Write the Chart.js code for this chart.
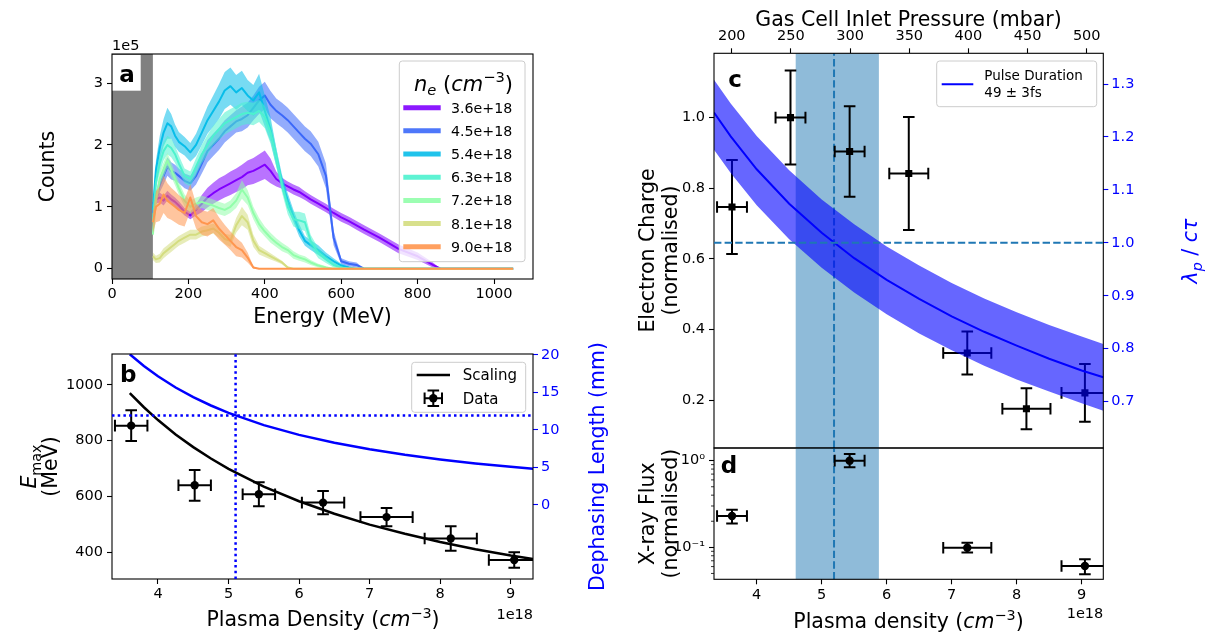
<!DOCTYPE html>
<html>
<head>
<meta charset="utf-8">
<title>Density scan</title>
<script src="https://cdn.jsdelivr.net/npm/chart.js@4.4.1/dist/chart.umd.min.js"></script>
<style>
  body { margin: 0; background: #fff; }
  #fig { position: relative; width: 1206px; height: 633px; overflow: hidden; }
  #fig canvas { position: absolute; left: 0; top: 0; }
</style>
</head>
<body>
<div id="fig">
  <canvas id="spectra" width="1206" height="633"></canvas>
  <canvas id="energy" width="1206" height="633"></canvas>
  <canvas id="charge" width="1206" height="633"></canvas>
  <canvas id="xray" width="1206" height="633"></canvas>
</div>
<script>
// ---- spectra (a): counts in units of 1e5 on a shared energy grid (MeV) ----
const energy = [107, 115, 125, 135, 145, 155, 165, 175, 190, 205, 220, 235, 250, 265, 280, 295, 310, 325, 340, 355, 370, 385, 400, 415, 430, 445, 460, 475, 490, 505, 520, 540, 560, 580, 600, 620, 640, 660, 700, 750, 800, 840, 860, 1050];
const counts36 = [1.05, 1.12, 1.15, 1.10, 1.18, 1.12, 1.08, 1.02, 0.92, 0.86, 0.95, 1.05, 1.15, 1.22, 1.28, 1.33, 1.38, 1.43, 1.48, 1.55, 1.58, 1.63, 1.68, 1.58, 1.45, 1.38, 1.33, 1.28, 1.24, 1.18, 1.12, 1.05, 0.98, 0.90, 0.83, 0.77, 0.70, 0.63, 0.50, 0.32, 0.20, 0.06, 0, 0];
const spread36 = [0.06, 0.07, 0.08, 0.08, 0.08, 0.08, 0.07, 0.07, 0.06, 0.06, 0.09, 0.14, 0.16, 0.17, 0.18, 0.18, 0.19, 0.19, 0.20, 0.20, 0.21, 0.22, 0.23, 0.20, 0.12, 0.09, 0.08, 0.08, 0.08, 0.07, 0.07, 0.07, 0.07, 0.07, 0.07, 0.07, 0.07, 0.07, 0.07, 0.07, 0.06, 0.04, 0, 0];
const counts45 = [0.90, 1.15, 1.35, 1.50, 1.65, 1.58, 1.55, 1.50, 1.42, 1.38, 1.50, 1.70, 1.90, 2.00, 2.10, 2.22, 2.30, 2.38, 2.42, 2.48, 2.60, 2.72, 2.80, 2.65, 2.55, 2.48, 2.40, 2.30, 2.20, 2.10, 2.02, 1.85, 1.50, 0.50, 0.12, 0.08, 0.06, 0, 0, 0, 0, 0, 0, 0];
const spread45 = [0.06, 0.10, 0.12, 0.14, 0.15, 0.14, 0.13, 0.12, 0.12, 0.12, 0.14, 0.16, 0.18, 0.18, 0.18, 0.18, 0.18, 0.18, 0.20, 0.20, 0.20, 0.22, 0.22, 0.22, 0.20, 0.20, 0.20, 0.20, 0.20, 0.20, 0.20, 0.20, 0.20, 0.12, 0.05, 0.04, 0.04, 0, 0, 0, 0, 0, 0, 0];
const counts54 = [0.95, 1.60, 1.95, 2.20, 2.35, 2.30, 2.15, 2.05, 1.98, 1.88, 2.00, 2.20, 2.40, 2.55, 2.70, 2.88, 2.95, 2.85, 2.92, 2.80, 2.72, 2.85, 2.55, 2.25, 1.80, 1.40, 1.10, 0.85, 0.62, 0.45, 0.38, 0.30, 0.20, 0.12, 0.05, 0.02, 0, 0, 0, 0, 0, 0, 0, 0];
const spread54 = [0.08, 0.15, 0.20, 0.22, 0.25, 0.20, 0.18, 0.16, 0.15, 0.15, 0.18, 0.20, 0.22, 0.25, 0.28, 0.30, 0.30, 0.28, 0.28, 0.25, 0.25, 0.30, 0.25, 0.20, 0.15, 0.12, 0.12, 0.10, 0.10, 0.08, 0.08, 0.08, 0.06, 0.05, 0.03, 0.02, 0, 0, 0, 0, 0, 0, 0, 0];
const counts63 = [0.75, 1.40, 1.70, 1.90, 2.00, 1.95, 1.85, 1.70, 1.50, 1.45, 1.65, 1.85, 2.00, 2.15, 2.25, 2.35, 2.40, 2.45, 2.50, 2.52, 2.50, 2.55, 2.45, 2.20, 1.80, 1.35, 1.00, 0.80, 0.78, 0.75, 0.45, 0.25, 0.15, 0.06, 0.02, 0, 0, 0, 0, 0, 0, 0, 0, 0];
const spread63 = [0.06, 0.12, 0.15, 0.15, 0.15, 0.15, 0.14, 0.13, 0.12, 0.12, 0.14, 0.15, 0.16, 0.16, 0.17, 0.18, 0.18, 0.18, 0.18, 0.18, 0.18, 0.18, 0.18, 0.18, 0.15, 0.12, 0.12, 0.12, 0.14, 0.14, 0.10, 0.08, 0.06, 0.04, 0.02, 0, 0, 0, 0, 0, 0, 0, 0, 0];
const counts72 = [0.55, 1.10, 1.45, 1.60, 1.75, 1.60, 1.45, 1.30, 1.10, 1.00, 1.05, 1.08, 1.05, 1.02, 0.98, 0.95, 1.00, 1.10, 1.28, 1.15, 0.90, 0.72, 0.60, 0.50, 0.42, 0.35, 0.30, 0.22, 0.18, 0.15, 0.10, 0.05, 0.02, 0, 0, 0, 0, 0, 0, 0, 0, 0, 0, 0];
const spread72 = [0.05, 0.10, 0.12, 0.12, 0.12, 0.12, 0.10, 0.10, 0.10, 0.10, 0.10, 0.10, 0.10, 0.10, 0.10, 0.10, 0.10, 0.12, 0.15, 0.12, 0.10, 0.10, 0.08, 0.08, 0.07, 0.07, 0.06, 0.06, 0.05, 0.05, 0.04, 0.03, 0.02, 0, 0, 0, 0, 0, 0, 0, 0, 0, 0, 0];
const counts81 = [0.20, 0.15, 0.17, 0.25, 0.30, 0.35, 0.40, 0.45, 0.50, 0.55, 0.55, 0.60, 0.62, 0.65, 0.58, 0.48, 0.45, 0.70, 0.85, 0.75, 0.45, 0.30, 0.25, 0.20, 0.15, 0.10, 0.02, 0, 0, 0, 0, 0, 0, 0, 0, 0, 0, 0, 0, 0, 0, 0, 0, 0];
const spread81 = [0.06, 0.06, 0.07, 0.08, 0.08, 0.08, 0.08, 0.08, 0.08, 0.08, 0.08, 0.08, 0.08, 0.08, 0.08, 0.08, 0.10, 0.12, 0.15, 0.12, 0.10, 0.07, 0.06, 0.05, 0.04, 0.03, 0.02, 0, 0, 0, 0, 0, 0, 0, 0, 0, 0, 0, 0, 0, 0, 0, 0, 0];
const counts90 = [0.75, 1.00, 1.05, 1.20, 1.10, 1.05, 1.00, 0.95, 0.90, 1.15, 0.85, 0.75, 0.72, 0.78, 0.65, 0.55, 0.45, 0.35, 0.30, 0.18, 0.02, 0, 0, 0, 0, 0, 0, 0, 0, 0, 0, 0, 0, 0, 0, 0, 0, 0, 0, 0, 0, 0, 0, 0];
const spread90 = [0.18, 0.25, 0.28, 0.30, 0.28, 0.26, 0.25, 0.24, 0.22, 0.22, 0.20, 0.20, 0.20, 0.20, 0.18, 0.16, 0.15, 0.15, 0.12, 0.08, 0.02, 0, 0, 0, 0, 0, 0, 0, 0, 0, 0, 0, 0, 0, 0, 0, 0, 0, 0, 0, 0, 0, 0, 0];
const spectrumLabels = ['3.6e+18', '4.5e+18', '5.4e+18', '6.3e+18', '7.2e+18', '8.1e+18', '9.0e+18'];
const cutoffEnergy = 107;   // spectrometer acceptance edge, MeV

// ---- max energy (b) vs plasma density (1e18 cm^-3) ----
const density = [3.62, 4.52, 5.43, 6.34, 7.24, 8.15, 9.05];
const densityErr = [0.23, 0.23, 0.23, 0.30, 0.37, 0.37, 0.36];
const eMax = [854, 640, 608, 578, 526, 449, 372];
const eMaxErr = [55, 55, 43, 42, 33, 44, 28];
const curveDensity = [3.6, 3.8, 4.0, 4.25, 4.5, 4.75, 5.0, 5.5, 6.0, 6.5, 7.0, 7.5, 8.0, 8.5, 9.0, 9.4];
const scalingE = [971, 920, 874, 822, 777, 736, 699, 635, 583, 538, 499, 466, 437, 411, 388, 372];
const dephasingMm = [20.07, 18.5, 17.13, 15.64, 14.36, 13.24, 12.26, 10.63, 9.33, 8.27, 7.40, 6.67, 6.06, 5.53, 5.08, 4.76];
const matchDensity = 5.10;
const matchLength = 11.9;

// ---- charge (c) and x-ray flux (d) ----
const charge = [0.747, 1.0, 0.904, 0.842, 0.334, 0.176, 0.221];
const chargeErr = [0.133, 0.133, 0.128, 0.160, 0.061, 0.058, 0.082];
const ratioDensity = [3.343, 3.6, 4.0, 4.5, 5.0, 5.5, 6.0, 6.5, 7.0, 7.5, 8.0, 8.5, 9.0, 9.333];
const ratioMid = [1.246, 1.201, 1.139, 1.074, 1.019, 0.971, 0.930, 0.894, 0.861, 0.832, 0.806, 0.781, 0.759, 0.746];
const ratioHigh = [1.308, 1.263, 1.202, 1.137, 1.082, 1.035, 0.993, 0.957, 0.924, 0.895, 0.869, 0.845, 0.823, 0.809];
const ratioLow = [1.176, 1.132, 1.071, 1.007, 0.953, 0.906, 0.865, 0.829, 0.797, 0.768, 0.742, 0.719, 0.697, 0.683];
const resonantRatio = 1.0;
const optimumDensity = 5.19;
const optimumRange = [4.60, 5.88];
const xrayDensity = [3.62, 5.43, 7.24, 9.05];
const xrayDensityErr = [0.23, 0.23, 0.37, 0.36];
const xrayFlux = [0.230, 1.0, 0.099, 0.061];
const xrayLow = [0.188, 0.838, 0.087, 0.049];
const xrayHigh = [0.272, 1.19, 0.113, 0.073];

// ---- ticks ----
const energyTicks = [0, 200, 400, 600, 800, 1000];
const countTicks = [0, 1, 2, 3];
const densityTicks = [4, 5, 6, 7, 8, 9];
const eMaxTicks = [400, 600, 800, 1000];
const dephasingTicks = [0, 5, 10, 15, 20];
const pressureTicks = [200, 250, 300, 350, 400, 450, 500];
const chargeTicks = [0.2, 0.4, 0.6, 0.8, 1.0];
const ratioTicks = [0.7, 0.8, 0.9, 1.0, 1.1, 1.2, 1.3];
const fluxTicks = [0.1, 1];
const fluxMinorTicks = [0.05, 0.06, 0.07, 0.08, 0.09, 0.2, 0.3, 0.4, 0.5, 0.6, 0.7, 0.8, 0.9];

const spectrumColors = ['#8000ff', '#3b68f9', '#08bde9', '#4df2ce', '#91feaa', '#d4dd80', '#ff964f'];
const BLUE = '#0000ff';
const TAB = '#1f77b4';
const FONT = '"DejaVu Sans", sans-serif';
const W = 1206, H = 633;

Chart.defaults.font.family = FONT;
Chart.defaults.color = '#000';
Chart.defaults.animation = false;
Chart.defaults.responsive = false;
Chart.defaults.events = [];
Chart.defaults.plugins.legend.display = false;
Chart.defaults.plugins.tooltip.enabled = false;

function rgba(hex, a) {
  const n = parseInt(hex.slice(1), 16);
  return `rgba(${n >> 16},${(n >> 8) & 255},${n & 255},${a})`;
}
const pts = (xs, ys) => xs.map((x, i) => ({ x, y: ys[i] }));

// axis with fixed tick values and a fixed thickness so plot boxes line up
function axis(o) {
  return {
    type: o.type || 'linear',
    position: o.position,
    display: o.display !== false,
    bounds: 'data',
    min: o.min, max: o.max,
    grid: { drawOnChartArea: false, drawTicks: true, tickLength: 5, tickWidth: 1.1,
            tickColor: o.tickColor || o.color || '#000' },
    border: { display: false },
    ticks: { color: o.color || '#000', font: { size: 14.5 }, padding: o.pad == null ? 4 : o.pad,
             autoSkip: false, maxRotation: 0, minRotation: 0, callback: o.fmt || (v => String(v)) },
    afterBuildTicks: s => { s.ticks = (o.ticks || []).map(v => ({ value: v })); },
    afterFit: s => { if (s.isHorizontal()) s.height = o.size || 0; else s.width = o.size || 0; }
  };
}
function padFor(box, l, r, t, b) {
  return { left: box.l - l, right: W - box.r - r, top: box.t - t, bottom: H - box.b - b };
}

// text with italic / sub / superscript runs, centred on (x, y)
function rich(c, parts, x, y, o = {}) {
  const size = o.size || 20.5;
  c.save();
  c.translate(x, y);
  if (o.rot) c.rotate(-Math.PI / 2);
  c.fillStyle = o.color || '#000';
  c.textBaseline = 'alphabetic';
  c.textAlign = 'left';
  const font = p => `${p.i ? 'italic ' : ''}${p.b ? 'bold ' : ''}${(p.sub || p.sup) ? size * 0.7 : size}px ${FONT}`;
  const widths = parts.map(p => { c.font = font(p); return c.measureText(p.t).width; });
  const total = widths.reduce((s, w) => s + w, 0);
  let cx = o.align === 'left' ? 0 : o.align === 'right' ? -total : -total / 2;
  parts.forEach((p, k) => {
    c.font = font(p);
    const dy = p.sub ? size * 0.22 : p.sup ? -size * 0.42 : 0;
    c.fillText(p.t, cx, size * 0.36 + dy);
    cx += widths[k];
  });
  c.restore();
}
const T = (t, f = {}) => Object.assign({ t }, f);

function panelLabel(c, ch, x, baseY, box) {
  c.save();
  if (box) { c.fillStyle = '#fff'; c.fillRect(box[0], box[1], box[2], box[3]); }
  c.fillStyle = '#000';
  c.font = `bold 23px ${FONT}`;
  c.textAlign = 'center';
  c.textBaseline = 'alphabetic';
  c.fillText(ch, x, baseY);
  c.restore();
}
function legendFrame(c, x, y, w, h) {
  c.save();
  c.beginPath();
  c.roundRect(x, y, w, h, 3);
  c.fillStyle = 'rgba(255,255,255,0.8)';
  c.fill();
  c.strokeStyle = '#cccccc';
  c.lineWidth = 1;
  c.stroke();
  c.restore();
}
function clipArea(chart, c) {
  const a = chart.chartArea;
  c.beginPath();
  c.rect(a.left, a.top, a.width, a.height);
  c.clip();
}
function errBar(c, x, y, x0, x1, y0, y1, cap) {
  c.beginPath();
  c.moveTo(x0, y); c.lineTo(x1, y);
  c.moveTo(x0, y - cap); c.lineTo(x0, y + cap);
  c.moveTo(x1, y - cap); c.lineTo(x1, y + cap);
  c.moveTo(x, y0); c.lineTo(x, y1);
  c.moveTo(x - cap, y0); c.lineTo(x + cap, y0);
  c.moveTo(x - cap, y1); c.lineTo(x + cap, y1);
  c.stroke();
}
function vLine(chart, c, scaleId, v, color, width, dash) {
  const a = chart.chartArea, x = chart.scales[scaleId].getPixelForValue(v);
  c.save(); clipArea(chart, c);
  c.strokeStyle = color; c.lineWidth = width; c.setLineDash(dash);
  c.beginPath(); c.moveTo(x, a.bottom); c.lineTo(x, a.top); c.stroke();
  c.restore();
}
function hLine(chart, c, scaleId, v, color, width, dash) {
  const a = chart.chartArea, y = chart.scales[scaleId].getPixelForValue(v);
  c.save(); clipArea(chart, c);
  c.strokeStyle = color; c.lineWidth = width; c.setLineDash(dash);
  c.beginPath(); c.moveTo(a.left, y); c.lineTo(a.right, y); c.stroke();
  c.restore();
}

// error bars for any dataset carrying errX / errY (or yLow / yHigh)
Chart.register({
  id: 'errorBars',
  beforeDatasetDraw(chart, args) {
    const ds = chart.data.datasets[args.index];
    if (!ds.errX) return;
    const xs = chart.scales[args.meta.xAxisID], ys = chart.scales[args.meta.yAxisID];
    const c = chart.ctx;
    c.save(); clipArea(chart, c);
    c.strokeStyle = '#000'; c.lineWidth = 2;
    ds.data.forEach((p, k) => {
      const lo = ds.yLow ? ds.yLow[k] : p.y - ds.errY[k];
      const hi = ds.yHigh ? ds.yHigh[k] : p.y + ds.errY[k];
      errBar(c, xs.getPixelForValue(p.x), ys.getPixelForValue(p.y),
        xs.getPixelForValue(p.x - ds.errX[k]), xs.getPixelForValue(p.x + ds.errX[k]),
        ys.getPixelForValue(lo), ys.getPixelForValue(hi), 5.8);
    });
    c.restore();
  }
});

// per-chart drawing: things under the data, then overlays and the axes frame
function decor(under, over) {
  return {
    id: 'decor',
    beforeDatasetsDraw(chart) { if (under) { const c = chart.ctx; c.save(); under(chart, c); c.restore(); } },
    afterDatasetsDraw(chart) {
      const c = chart.ctx, a = chart.chartArea;
      c.save();
      c.strokeStyle = '#000'; c.lineWidth = 1.1;
      c.strokeRect(a.left, a.top, a.width, a.height);
      c.restore();
      if (over) { c.save(); over(chart, c); c.restore(); }
    }
  };
}

// ================= (a) electron spectra =================
const spectra = [counts36, counts45, counts54, counts63, counts72, counts81, counts90];
const spreads = [spread36, spread45, spread54, spread63, spread72, spread81, spread90];
const specSets = [];
spectra.forEach((cnt, i) => {
  const col = spectrumColors[i], base = 1000 - i * 10;
  specSets.push({ data: pts(energy, cnt.map((v, k) => v + spreads[i][k])), fill: '+1',
    backgroundColor: rgba(col, 0.55), borderColor: 'transparent', borderWidth: 0, pointRadius: 0, order: base });
  specSets.push({ data: pts(energy, cnt.map((v, k) => v - spreads[i][k])), fill: false,
    borderColor: 'transparent', borderWidth: 0, pointRadius: 0, order: base - 1 });
  specSets.push({ data: pts(energy, cnt), fill: false, borderColor: col, borderWidth: 2,
    borderJoinStyle: 'round', pointRadius: 0, order: base - 2 });
});
const boxA = { l: 112, t: 54, r: 533, b: 279 };
new Chart(document.getElementById('spectra'), {
  type: 'line',
  data: { datasets: specSets },
  options: {
    layout: { padding: padFor(boxA, 60, 0, 0, 40) },
    scales: {
      x: axis({ position: 'bottom', min: 0, max: 1102, ticks: energyTicks, size: 40, pad: 2 }),
      y: axis({ position: 'left', min: -0.167, max: 3.47, ticks: countTicks, size: 60 })
    }
  },
  plugins: [decor(
    (chart, c) => {
      const x = chart.scales.x, a = chart.chartArea;
      const x0 = x.getPixelForValue(0), x1 = x.getPixelForValue(cutoffEnergy);
      c.fillStyle = '#808080';
      c.fillRect(x0, a.top, x1 - x0, a.height);
    },
    (chart, c) => {
      panelLabel(c, 'a', 127, 82, [112.7, 55, 28, 35.7]);
      legendFrame(c, 399.3, 61, 125.7, 200.7);
      rich(c, [T('n', { i: 1 }), T('e', { i: 1, sub: 1 }), T(' ('), T('cm', { i: 1 }), T('−3', { sup: 1 }), T(')')],
        463.5, 83, { size: 21 });
      spectrumLabels.forEach((lab, i) => {
        const y = 107.7 + i * 23.17;
        c.strokeStyle = rgba(spectrumColors[i], 0.9);
        c.lineWidth = 5;
        c.beginPath(); c.moveTo(403.3, y); c.lineTo(440.7, y); c.stroke();
        rich(c, [T(lab)], 451, y, { size: 14.2, align: 'left' });
      });
      rich(c, [T('Counts')], 46.5, 166.5, { rot: true });
      rich(c, [T('Energy (MeV)')], 322.5, 316);
      rich(c, [T('1e5')], 112, 45, { size: 14.5, align: 'left' });
    })]
});

// ================= (b) maximum energy and dephasing length =================
const boxB = { l: 112, t: 354, r: 533, b: 579 };
new Chart(document.getElementById('energy'), {
  type: 'line',
  data: {
    datasets: [
      { data: pts(curveDensity, scalingE), borderColor: '#000', borderWidth: 2.5, pointRadius: 0, order: 30 },
      { data: pts(density, eMax), showLine: false, pointRadius: 4.2, pointBackgroundColor: '#000',
        pointBorderColor: '#000', pointBorderWidth: 0, errX: densityErr, errY: eMaxErr, order: 20 },
      { data: pts(curveDensity, dephasingMm), yAxisID: 'y2', borderColor: BLUE, borderWidth: 2.5, pointRadius: 0, order: 10 }
    ]
  },
  options: {
    layout: { padding: padFor(boxB, 60, 40, 0, 40) },
    scales: {
      x: axis({ position: 'bottom', min: 3.348, max: 9.316, ticks: densityTicks, size: 40, pad: 2 }),
      y: axis({ position: 'left', min: 304, max: 1111, ticks: eMaxTicks, size: 60 }),
      y2: axis({ position: 'right', min: -9.87, max: 20.1, ticks: dephasingTicks, size: 40, color: BLUE, pad: 3 })
    }
  },
  plugins: [decor(null, (chart, c) => {
    vLine(chart, c, 'x', matchDensity, BLUE, 2.5, [2.5, 3.2]);
    hLine(chart, c, 'y2', matchLength, BLUE, 2.5, [2.5, 3.2]);
    panelLabel(c, 'b', 128.3, 382.3);
    legendFrame(c, 411.7, 362.3, 114, 50);
    c.strokeStyle = '#000'; c.lineWidth = 2.5;
    c.beginPath(); c.moveTo(416.7, 375); c.lineTo(450, 375); c.stroke();
    c.lineWidth = 2;
    errBar(c, 433.3, 398.3, 424.6, 442, 390.5, 406.1, 5.8);
    c.fillStyle = '#000';
    c.beginPath(); c.arc(433.3, 398.3, 4.2, 0, Math.PI * 2); c.fill();
    rich(c, [T('Scaling')], 462.7, 375, { size: 15, align: 'left' });
    rich(c, [T('Data')], 462.7, 398.3, { size: 15, align: 'left' });
    rich(c, [T('E', { i: 1 }), T('max', { sub: 1 })], 29, 466.5, { rot: true });
    rich(c, [T('(MeV)')], 49.5, 466.5, { rot: true });
    rich(c, [T('Plasma Density ('), T('cm', { i: 1 }), T('−3', { sup: 1 }), T(')')], 323, 619);
    rich(c, [T('1e18')], 533, 613.5, { size: 14.5, align: 'right' });
    rich(c, [T('Dephasing Length (mm)')], 597, 466.5, { rot: true, color: BLUE });
  })]
});

// ================= (c) electron charge and pulse-length ratio =================
const boxC = { l: 714, t: 53.3, r: 1103.3, b: 448 };
function optimumShade(chart, c) {
  const x = chart.scales.x, a = chart.chartArea;
  const x0 = x.getPixelForValue(optimumRange[0]), x1 = x.getPixelForValue(optimumRange[1]);
  c.fillStyle = 'rgba(31,119,180,0.5)';
  c.fillRect(x0, a.top, x1 - x0, a.height);
  vLine(chart, c, 'x', optimumDensity, TAB, 2, [7.4, 3.2]);
}
new Chart(document.getElementById('charge'), {
  type: 'line',
  data: {
    datasets: [
      { data: pts(density, charge), showLine: false, pointStyle: 'rect', pointRadius: 5,
        pointBackgroundColor: '#000', pointBorderColor: '#000', pointBorderWidth: 0,
        errX: densityErr, errY: chargeErr, order: 30 },
      { data: pts(ratioDensity, ratioHigh), yAxisID: 'y2', fill: '+1', backgroundColor: 'rgba(0,0,255,0.6)',
        borderColor: 'transparent', borderWidth: 0, pointRadius: 0, order: 20 },
      { data: pts(ratioDensity, ratioLow), yAxisID: 'y2', fill: false,
        borderColor: 'transparent', borderWidth: 0, pointRadius: 0, order: 19 },
      { data: pts(ratioDensity, ratioMid), yAxisID: 'y2', borderColor: BLUE, borderWidth: 2, pointRadius: 0, order: 10 }
    ]
  },
  options: {
    layout: { padding: padFor(boxC, 60, 40, 40, 0) },
    scales: {
      x: axis({ position: 'bottom', display: false, min: 3.343, max: 9.333 }),
      xp: axis({ position: 'top', min: 185, max: 514, ticks: pressureTicks, size: 40, pad: 3 }),
      y: axis({ position: 'left', min: 0.065, max: 1.182, ticks: chargeTicks, size: 60, fmt: v => v.toFixed(1) }),
      y2: axis({ position: 'right', min: 0.6125, max: 1.358, ticks: ratioTicks, size: 40, color: BLUE, pad: 3,
                 fmt: v => v.toFixed(1) })
    }
  },
  plugins: [decor(optimumShade, (chart, c) => {
    hLine(chart, c, 'y2', resonantRatio, TAB, 2, [7.4, 3.2]);
    panelLabel(c, 'c', 735, 86.7);
    legendFrame(c, 936.7, 61, 160, 45.7);
    c.strokeStyle = BLUE; c.lineWidth = 2;
    c.beginPath(); c.moveTo(941.7, 84.3); c.lineTo(973.3, 84.3); c.stroke();
    rich(c, [T('Pulse Duration')], 984.3, 75, { size: 13.5, align: 'left' });
    rich(c, [T('49 ± 3fs')], 984.3, 92, { size: 13.5, align: 'left' });
    rich(c, [T('Gas Cell Inlet Pressure (mbar)')], 908.5, 18.5);
    rich(c, [T('Electron Charge')], 647, 250.5, { rot: true });
    rich(c, [T('(normalised)')], 669.5, 250.5, { rot: true });
    rich(c, [T('λ', { i: 1 }), T('p', { i: 1, sub: 1 }), T(' / '), T('cτ', { i: 1 })], 1190, 251, { rot: true, color: BLUE });
  })]
});

// ================= (d) x-ray flux =================
const boxD = { l: 714, t: 448, r: 1103.3, b: 579.3 };
new Chart(document.getElementById('xray'), {
  type: 'line',
  data: {
    datasets: [
      { data: pts(xrayDensity, xrayFlux), showLine: false, pointRadius: 4.2, pointBackgroundColor: '#000',
        pointBorderColor: '#000', pointBorderWidth: 0, errX: xrayDensityErr, yLow: xrayLow, yHigh: xrayHigh }
    ]
  },
  options: {
    layout: { padding: padFor(boxD, 60, 0, 0, 40) },
    scales: {
      x: axis({ position: 'bottom', min: 3.343, max: 9.333, ticks: densityTicks, size: 40, pad: 2 }),
      y: axis({ type: 'logarithmic', position: 'left', min: 0.0428, max: 1.40,
                ticks: fluxTicks.concat(fluxMinorTicks), size: 60,
                tickColor: ctx => (ctx.tick && fluxTicks.includes(ctx.tick.value)) ? '#000' : 'rgba(0,0,0,0)',
                fmt: v => v === 1 ? '10⁰' : v === 0.1 ? '10⁻¹' : '' })
    }
  },
  plugins: [decor(optimumShade, (chart, c) => {
    // minor log ticks
    const y = chart.scales.y, a = chart.chartArea;
    c.strokeStyle = '#000'; c.lineWidth = 0.8;
    fluxMinorTicks.forEach(v => {
      const py = y.getPixelForValue(v);
      c.beginPath(); c.moveTo(a.left, py); c.lineTo(a.left - 3, py); c.stroke();
    });
    panelLabel(c, 'd', 729, 473.3);
    rich(c, [T('X-ray Flux')], 647, 513.7, { rot: true });
    rich(c, [T('(normalised)')], 669.5, 513.7, { rot: true });
    rich(c, [T('Plasma density ('), T('cm', { i: 1 }), T('−3', { sup: 1 }), T(')')], 908.5, 621);
    rich(c, [T('1e18')], 1103.3, 613, { size: 14.5, align: 'right' });
  })]
});
</script>
</body>
</html>
